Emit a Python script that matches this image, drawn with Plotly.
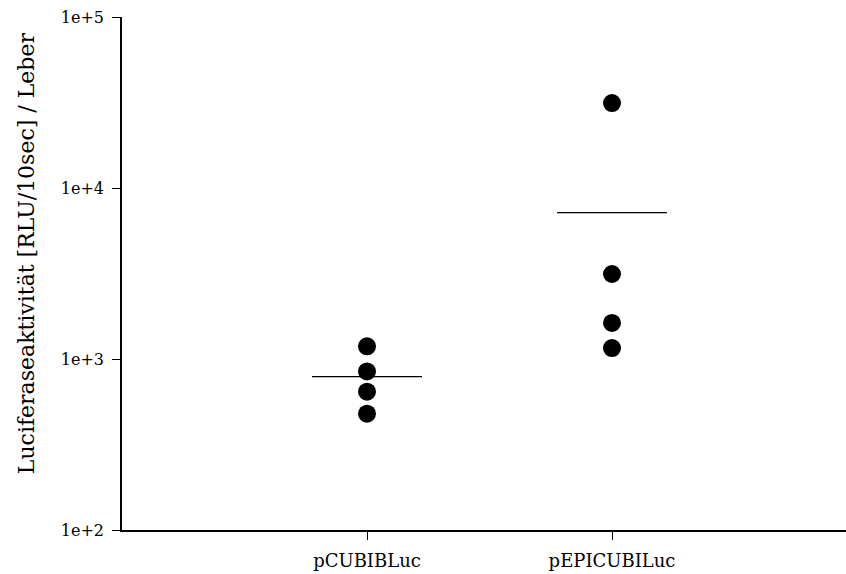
import plotly.graph_objects as go

categories = ["pCUBIBLuc", "pEPICUBILuc"]
cat_pos = [1, 2]
values_pcubib = [1186, 846, 644, 479]
values_pepicubi = [31400, 3141, 1625, 1159]
mean_values = [788, 7170]
ytick_vals = [100, 1000, 10000, 100000]
ytick_text = ["1e+2", "1e+3", "1e+4", "1e+5"]

FONT = "DejaVu Serif"
half_w = 0.2245

fig = go.Figure()
for pos, vals in zip(cat_pos, [values_pcubib, values_pepicubi]):
    fig.add_trace(go.Scatter(
        x=[pos] * len(vals), y=vals, mode="markers",
        marker=dict(size=18, color="black", line=dict(width=0)),
        showlegend=False, hoverinfo="skip"))
for pos, m in zip(cat_pos, mean_values):
    fig.add_trace(go.Scatter(
        x=[pos - half_w, pos + half_w], y=[m, m], mode="lines",
        line=dict(color="black", width=1.3),
        showlegend=False, hoverinfo="skip"))

fig.update_layout(
    width=846, height=574,
    margin=dict(l=122, r=0, t=17, b=44),
    plot_bgcolor="white", paper_bgcolor="white",
    font=dict(family=FONT, color="black"),
    xaxis=dict(
        range=[0, 724 / 245], tickmode="array", tickvals=cat_pos, ticktext=categories,
        showgrid=False, zeroline=False, showline=True, linecolor="black", linewidth=1.5,
        ticks="outside", ticklen=8, tickwidth=1.2, tickcolor="black",
        tickfont=dict(family=FONT, size=18, color="black"), ticklabelstandoff=6),
    yaxis=dict(
        type="log", range=[2, 5], tickmode="array", tickvals=ytick_vals, ticktext=ytick_text,
        showgrid=False, zeroline=False, showline=True, linecolor="black", linewidth=1.5,
        ticks="outside", ticklen=8, tickwidth=1.2, tickcolor="black",
        tickfont=dict(family=FONT, size=16, color="black"), ticklabelstandoff=5,
        ticklabeloverflow="allow"),
    annotations=[dict(
        text="Luciferaseaktivität [RLU/10sec] / Leber",
        xref="paper", yref="paper", x=(26 - 122) / 724, y=(530.3 - 253.5) / 513,
        xanchor="center", yanchor="middle", textangle=-90, showarrow=False,
        font=dict(family=FONT, size=22, color="black"))],
)

fig.write_html(
    "out.html",
    config={"displayModeBar": False},
    post_script="document.body.style.margin='0';document.body.style.overflow='hidden';",
)
